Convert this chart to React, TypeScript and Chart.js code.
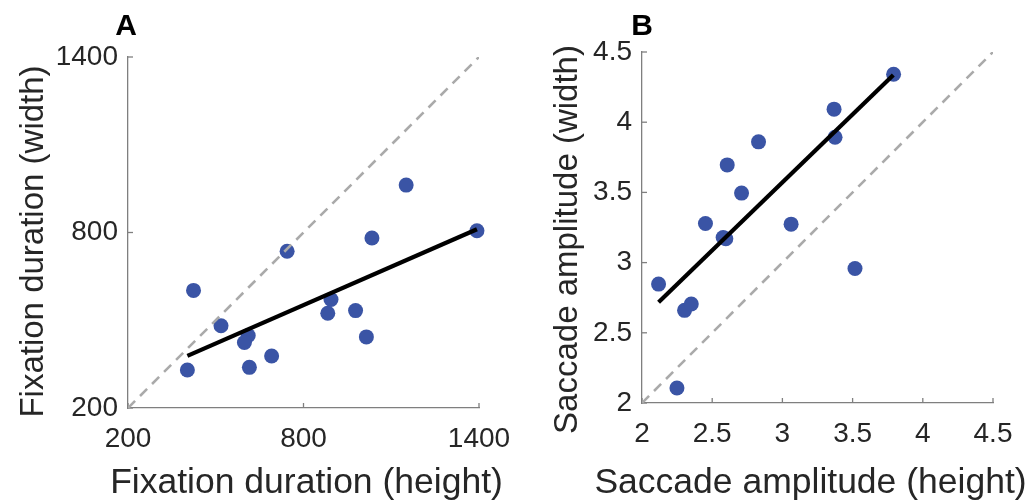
import React, { useEffect, useRef } from "react";
import { Chart, registerables } from "chart.js";

Chart.register(...registerables);

// Panel A: fixation duration
const fixHeight = [403, 424, 518, 611, 598, 615, 691, 744, 894, 883, 978, 1015, 1034, 1151, 1393];
const fixWidth = [330, 602, 481, 448, 424, 339, 378, 736, 571, 524, 533, 443, 781, 962, 806];
const fixFitX = [403, 1393];
const fixFitY = [378, 811];
const fixTicks = [200, 800, 1400];
const fixRange = [200, 1400];

// Panel B: saccade amplitude
const sacHeight = [2.118, 2.249, 2.303, 2.351, 2.452, 2.578, 2.597, 2.607, 2.709, 2.83, 3.062, 3.368, 3.375, 3.517, 3.792];
const sacWidth = [2.847, 2.107, 2.66, 2.705, 3.279, 3.179, 3.17, 3.696, 3.495, 3.86, 3.274, 4.093, 3.893, 2.958, 4.342];
const sacFitX = [2.118, 3.79];
const sacFitY = [2.717, 4.337];
const sacTicks = [2, 2.5, 3, 3.5, 4, 4.5];
const sacRange = [2, 4.5];

const FONT = "'Liberation Sans', Arial, Helvetica, sans-serif";
const AXIS_COLOR = "#7f7f7f";
const TEXT_COLOR = "#262626";
const DOT_COLOR = "#3a54a5";

const decorPlugin = {
  id: "decor",
  beforeDatasetsDraw(chart: any) {
    const { ctx, chartArea: a, scales } = chart;
    const xs = scales.x;
    const ys = scales.y;
    ctx.save();
    ctx.strokeStyle = AXIS_COLOR;
    ctx.lineWidth = 1.3;
    xs.ticks.forEach((t: any) => {
      const px = xs.getPixelForValue(t.value);
      ctx.beginPath();
      ctx.moveTo(px, a.bottom);
      ctx.lineTo(px, a.bottom - 5);
      ctx.stroke();
    });
    ys.ticks.forEach((t: any) => {
      const py = ys.getPixelForValue(t.value);
      ctx.beginPath();
      ctx.moveTo(a.left, py);
      ctx.lineTo(a.left + 5, py);
      ctx.stroke();
    });
    ctx.restore();
  },
  afterDraw(chart: any, _args: any, opts: any) {
    const { ctx, chartArea: a } = chart;
    ctx.save();
    ctx.fillStyle = "#000";
    ctx.font = `bold 30px ${FONT}`;
    ctx.textAlign = "center";
    ctx.textBaseline = "alphabetic";
    ctx.fillText(opts.letter, a.left + opts.letterDx, 35);
    ctx.fillStyle = TEXT_COLOR;
    ctx.font = `35.5px ${FONT}`;
    ctx.fillText(opts.xTitle, (a.left + a.right) / 2 + opts.xTitleDx, 493);
    ctx.font = `33px ${FONT}`;
    ctx.translate(opts.yTitleX, (a.top + a.bottom) / 2 + opts.yTitleDy);
    ctx.rotate(-Math.PI / 2);
    ctx.fillText(opts.yTitle, 0, 0);
    ctx.restore();
  },
};

type PanelProps = {
  left: number;
  padTop: number;
  xVals: number[];
  yVals: number[];
  fitX: number[];
  fitY: number[];
  ticks: number[];
  range: number[];
  letter: string;
  letterDx: number;
  xTitle: string;
  yTitle: string;
  xTitleDx: number;
  yTitleX: number;
  yTitleDy: number;
};

function Panel(p: PanelProps) {
  const ref = useRef<HTMLCanvasElement | null>(null);
  useEffect(() => {
    if (!ref.current) return;
    const tickFont = { family: FONT, size: 28 };
    const zeroPad = (s: any) => {
      s.paddingLeft = 0;
      s.paddingRight = 0;
      s.paddingTop = 0;
      s.paddingBottom = 0;
    };
    const chart = new Chart(ref.current, {
      type: "scatter",
      data: {
        datasets: [
          {
            label: "fit",
            data: p.fitX.map((x, i) => ({ x, y: p.fitY[i] })),
            showLine: true,
            borderColor: "#000",
            borderWidth: 4.2,
            pointRadius: 0,
            order: 0,
          },
          {
            label: "identity",
            data: p.range.map((v) => ({ x: v, y: v })),
            showLine: true,
            borderColor: "#aaaaaa",
            borderWidth: 2.6,
            borderDash: [10, 7],
            pointRadius: 0,
            order: 1,
          },
          {
            label: "data",
            data: p.xVals.map((x, i) => ({ x, y: p.yVals[i] })),
            pointRadius: 7.5,
            pointBackgroundColor: DOT_COLOR,
            pointBorderWidth: 0,
            backgroundColor: DOT_COLOR,
            borderWidth: 0,
            clip: false as any,
            order: 2,
          },
        ],
      },
      options: {
        responsive: false,
        animation: false,
        devicePixelRatio: 1,
        layout: { padding: { left: 0, right: 35, top: p.padTop, bottom: 0 } },
        plugins: {
          legend: { display: false },
          tooltip: { enabled: false },
          decor: {
            letter: p.letter,
            letterDx: p.letterDx,
            xTitle: p.xTitle,
            yTitle: p.yTitle,
            xTitleDx: p.xTitleDx,
            yTitleX: p.yTitleX,
            yTitleDy: p.yTitleDy,
          },
        } as any,
        scales: {
          x: {
            type: "linear",
            min: p.range[0],
            max: p.range[1],
            afterBuildTicks: (s: any) => {
              s.ticks = p.ticks.map((v) => ({ value: v }));
            },
            afterFit: (s: any) => {
              s.height = 500 - p.padTop - 351;
              zeroPad(s);
            },
            grid: { display: false, drawTicks: false },
            border: { display: true, color: AXIS_COLOR, width: 1.3 },
            ticks: {
              color: TEXT_COLOR,
              font: tickFont,
              padding: 14,
              maxRotation: 0,
              autoSkip: false,
              callback: (v: any) => String(v),
            },
          },
          y: {
            type: "linear",
            min: p.range[0],
            max: p.range[1],
            afterBuildTicks: (s: any) => {
              s.ticks = p.ticks.map((v) => ({ value: v }));
            },
            afterFit: (s: any) => {
              s.width = 128;
              zeroPad(s);
            },
            grid: { display: false, drawTicks: false },
            border: { display: true, color: AXIS_COLOR, width: 1.3 },
            ticks: {
              color: TEXT_COLOR,
              font: tickFont,
              padding: 10,
              autoSkip: false,
              callback: (v: any) => String(v),
            },
          },
        },
      },
      plugins: [decorPlugin as any],
    });
    return () => chart.destroy();
  }, []);
  return (
    <div style={{ position: "absolute", left: p.left, top: 0, width: 514, height: 500 }}>
      <canvas ref={ref} width={514} height={500} style={{ width: 514, height: 500 }} />
    </div>
  );
}

export default function App() {
  return (
    <div style={{ position: "absolute", left: 0, top: 0, width: 1028, height: 500, background: "#fff" }}>
      <Panel
        left={0}
        padTop={57}
        xVals={fixHeight}
        yVals={fixWidth}
        fitX={fixFitX}
        fitY={fixFitY}
        ticks={fixTicks}
        range={fixRange}
        letter="A"
        letterDx={-2}
        xTitle="Fixation duration (height)"
        yTitle="Fixation duration (width)"
        xTitleDx={3}
        yTitleX={43}
        yTitleDy={9}
      />
      <Panel
        left={514}
        padTop={52}
        xVals={sacHeight}
        yVals={sacWidth}
        fitX={sacFitX}
        fitY={sacFitY}
        ticks={sacTicks}
        range={sacRange}
        letter="B"
        letterDx={0}
        xTitle="Saccade amplitude (height)"
        yTitle="Saccade amplitude (width)"
        xTitleDx={-7}
        yTitleX={63}
        yTitleDy={12}
      />
    </div>
  );
}
